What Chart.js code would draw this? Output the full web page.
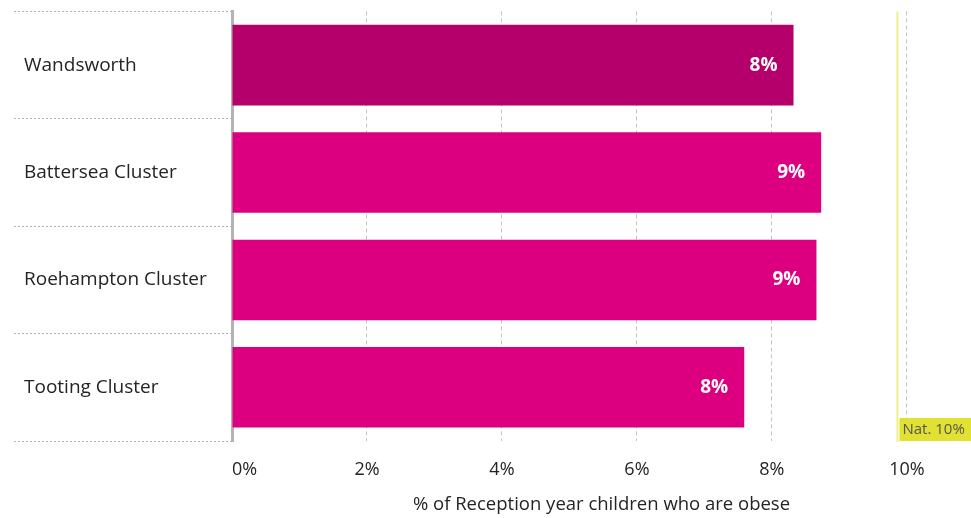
<!DOCTYPE html>
<html>
<head>
<meta charset="utf-8">
<script src="https://cdn.jsdelivr.net/npm/chart.js@4/dist/chart.umd.min.js"></script>
<style>
  html, body { margin: 0; padding: 0; background: #fff; }
  #obeseChart { display: block; }
</style>
</head>
<body>
<canvas id="obeseChart" width="971" height="518"></canvas>
<script>
const categories = ["Wandsworth", "Battersea Cluster", "Roehampton Cluster", "Tooting Cluster"];
const obeseRates = [8.32, 8.73, 8.66, 7.59];
const barColors = ["#b5006b", "#dc0080", "#dc0080", "#dc0080"];
const nationalRate = 9.86;
const nationalLabel = "Nat. 10%";
const axisTitle = "% of Reception year children who are obese";

Chart.defaults.font.family = "'Segoe UI', 'Open Sans', sans-serif";
Chart.defaults.color = "#252423";

// white value labels at the end of each bar
const barLabels = {
  id: "barLabels",
  afterDatasetsDraw(chart) {
    const ctx = chart.ctx;
    const meta = chart.getDatasetMeta(0);
    ctx.save();
    ctx.font = "bold 19px 'Segoe UI', 'Open Sans', sans-serif";
    ctx.fillStyle = "#ffffff";
    ctx.textAlign = "right";
    ctx.textBaseline = "middle";
    meta.data.forEach(function (bar, i) {
      ctx.fillText(Math.round(obeseRates[i]) + "%", bar.x - 16, bar.y);
    });
    ctx.restore();
  }
};

// national average line + tag
const nationalLine = {
  id: "nationalLine",
  afterDraw(chart) {
    const ctx = chart.ctx;
    const area = chart.chartArea;
    const x = chart.scales.x.getPixelForValue(nationalRate);
    ctx.save();
    ctx.strokeStyle = "#f0f08a";
    ctx.lineWidth = 2;
    ctx.beginPath();
    ctx.moveTo(x, area.top);
    ctx.lineTo(x, area.bottom + 1);
    ctx.stroke();

    ctx.fillStyle = "#e1e134";
    ctx.fillRect(x + 2, area.bottom - 23, chart.width - x - 2, 23);
    ctx.font = "15px 'Segoe UI', 'Open Sans', sans-serif";
    ctx.fillStyle = "#555555";
    ctx.textAlign = "left";
    ctx.textBaseline = "middle";
    ctx.fillText(nationalLabel, x + 5, area.bottom - 11);
    ctx.restore();
  }
};

new Chart("obeseChart", {
  type: "bar",
  data: {
    labels: categories,
    datasets: [
      {
        data: obeseRates,
        backgroundColor: barColors,
        barPercentage: 0.75,
        categoryPercentage: 1.0
      }
    ]
  },
  options: {
    indexAxis: "y",
    responsive: false,
    animation: false,
    layout: { padding: { top: 9, left: 24, right: 0, bottom: 0 } },
    plugins: {
      legend: { display: false },
      tooltip: { enabled: false }
    },
    scales: {
      x: {
        min: 0,
        max: 10.95,
        border: { display: false, dash: [4, 3] },
        grid: {
          drawTicks: false,
          lineWidth: 1,
          color: function (c) {
            const v = c.tick ? c.tick.value : 0;
            return (v <= 0 || v > 10) ? "rgba(0,0,0,0)" : "#c4c4c4";
          }
        },
        ticks: {
          stepSize: 2,
          includeBounds: false,
          align: "inner",
          padding: 18,
          maxRotation: 0,
          font: { size: 18 },
          color: "#252423",
          callback: function (v) {
            return v > 10 ? "" : v + "%";
          }
        },
        // blank end tick so the 10% label stays centred
        afterBuildTicks: function (scale) {
          scale.ticks.push({ value: scale.max });
        },
        afterFit: function (scale) {
          scale.height = 77;
          scale.paddingLeft = 0;
          scale.paddingRight = 0;
        },
        title: {
          display: true,
          text: axisTitle,
          font: { size: 18.5 },
          color: "#252423",
          padding: { top: 0, bottom: 2 }
        }
      },
      y: {
        border: { display: true, color: "#b3b3b3", width: 3 },
        grid: {
          offset: true,
          drawOnChartArea: false,
          drawTicks: true,
          tickLength: 218,
          tickColor: "#b0b0b0",
          tickWidth: 1,
          tickBorderDash: [2, 2]
        },
        ticks: {
          crossAlign: "far",
          padding: 0,
          font: { size: 19 },
          color: "#252423"
        },
        afterFit: function (scale) {
          scale.width = 208;
        }
      }
    }
  },
  plugins: [barLabels, nationalLine]
});
</script>
</body>
</html>
